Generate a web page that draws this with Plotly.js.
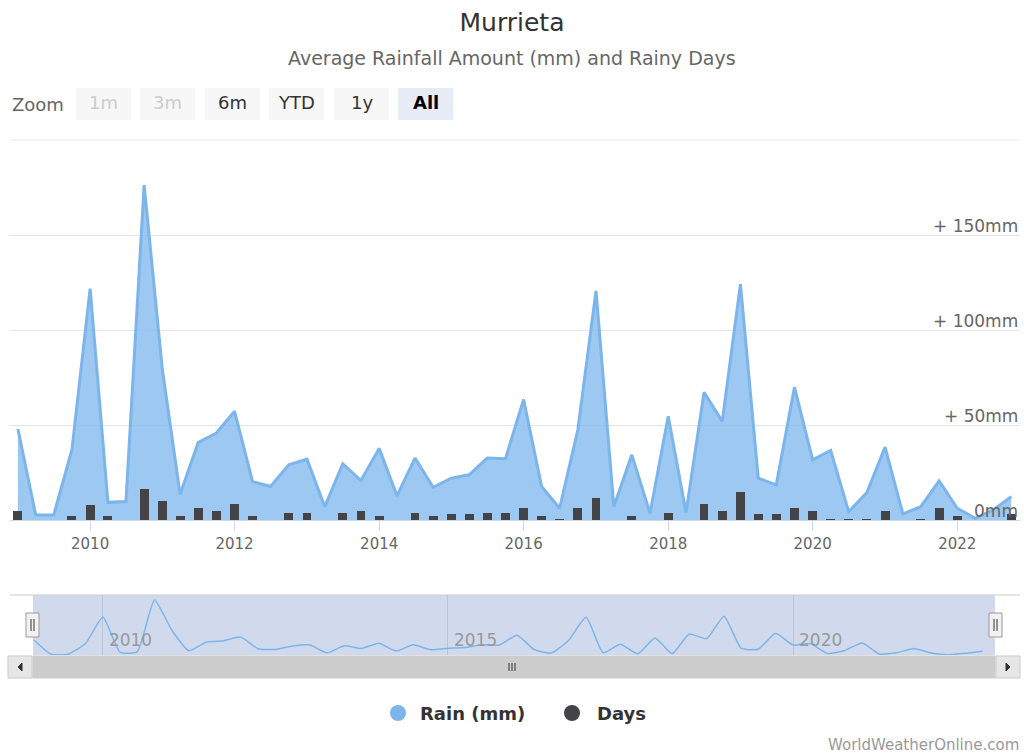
<!DOCTYPE html>
<html>
<head>
<meta charset="utf-8">
<script src="https://cdn.plot.ly/plotly-3.0.1.min.js"></script>
<style>html,body{margin:0;padding:0;background:#fff;}#chart{width:1024px;height:754px;}</style>
</head>
<body>
<div id="chart"></div>
<script>
// Quarterly observation dates
const dates = [
 "2009-01-01","2009-04-01","2009-07-01","2009-10-01",
 "2010-01-01","2010-04-01","2010-07-01","2010-10-01",
 "2011-01-01","2011-04-01","2011-07-01","2011-10-01",
 "2012-01-01","2012-04-01","2012-07-01","2012-10-01",
 "2013-01-01","2013-04-01","2013-07-01","2013-10-01",
 "2014-01-01","2014-04-01","2014-07-01","2014-10-01",
 "2015-01-01","2015-04-01","2015-07-01","2015-10-01",
 "2016-01-01","2016-04-01","2016-07-01","2016-10-01",
 "2017-01-01","2017-04-01","2017-07-01","2017-10-01",
 "2018-01-01","2018-04-01","2018-07-01","2018-10-01",
 "2019-01-01","2019-04-01","2019-07-01","2019-10-01",
 "2020-01-01","2020-04-01","2020-07-01","2020-10-01",
 "2021-01-01","2021-04-01","2021-07-01","2021-10-01",
 "2022-01-01","2022-04-01","2022-07-01","2022-10-01"
];
// Rain (mm)
const rainMm = [
 47.9, 2.6, 2.6, 37,
 121.8, 9.3, 9.7, 176.3,
 79.2, 13.5, 40.8, 45.8,
 57.2, 20.2, 17.6, 29,
 32, 7, 29.6, 20.8,
 37.7, 12.7, 32.6, 17.2,
 22, 23.8, 32.6, 32.2,
 63.4, 17.6, 6.2, 47.5,
 120.6, 7, 34.3, 3.5,
 54.6, 3.9, 67.2, 51.9,
 124.1, 22, 18.5, 69.9,
 31.7, 36.6, 4.4, 14.4,
 38.4, 3.2, 7, 20.6,
 6.2, 0.9, 5.3, 12.3
];
// Rainy days
const rainyDays = [
 6, 0, 0, 3,
 10, 3, 0, 21,
 13, 3, 8, 6,
 11, 3, 0, 5,
 5, 0, 5, 6,
 3, 0, 5, 3,
 4, 4, 5, 5,
 8, 3, 1, 8,
 15, 0, 3, 0,
 5, 0, 11, 6,
 19, 4, 4, 8,
 6, 1, 1, 1,
 6, 0, 1, 8,
 3, 0, 0, 4
];
const xTickVals = ["2010-01-01","2012-01-01","2014-01-01","2016-01-01","2018-01-01","2020-01-01","2022-01-01"];
const xTickText = ["2010","2012","2014","2016","2018","2020","2022"];
const navTickVals = ["2010-01-01","2015-01-01","2020-01-01"];
const navTickText = ["2010","2015","2020"];
const yTickVals = [0, 50, 100, 150, 200];
const yTickText = ["0mm", "+ 50mm", "+ 100mm", "+ 150mm", ""];
const zoomButtons = ["1m", "3m", "6m", "YTD", "1y", "All"];
const legendLabels = ["Rain (mm)", "Days"];
const titleText = "Murrieta";
const subtitleText = "Average Rainfall Amount (mm) and Rainy Days";
const creditText = "WorldWeatherOnline.com";

const W = 1024, H = 754;
const px = x => x / W;
const py = y => 1 - y / H;
const FONT = "DejaVu Sans, Verdana, sans-serif";

const traces = [
  {
    type: "scatter", mode: "lines", x: dates, y: rainMm, name: legendLabels[0],
    xaxis: "x", yaxis: "y", fill: "tozeroy",
    fillcolor: "rgba(124,181,236,0.75)",
    line: {color: "#7cb5ec", width: 3}, hoverinfo: "x+y"
  },
  {
    type: "bar", x: dates, y: rainyDays, name: legendLabels[1],
    xaxis: "x", yaxis: "y2", marker: {color: "#434348"},
    width: 45 * 86400000
  },
  {
    type: "scatter", mode: "lines", x: dates, y: rainMm, name: "navigator",
    xaxis: "x2", yaxis: "y3",
    line: {color: "#7cb5ec", width: 1.5, shape: "spline", smoothing: 0.5},
    hoverinfo: "skip"
  }
];

const shapes = [];
const annotations = [];

// Subtitle
annotations.push({xref: "paper", yref: "paper", x: 0.5, y: py(58), xanchor: "center", yanchor: "middle",
  text: subtitleText, showarrow: false, font: {family: FONT, size: 19, color: "#666666"}});

// Y-axis labels (right side, above each gridline) placed on the rain axis
yTickVals.forEach((v, i) => {
  if (!yTickText[i]) return;
  annotations.push({xref: "paper", yref: "y", x: px(1020), y: v, xanchor: "right", yanchor: "bottom",
    yshift: -3, text: yTickText[i], showarrow: false,
    font: {family: FONT, size: 17, color: "#666666"}});
});

// Zoom label & buttons
annotations.push({xref: "paper", yref: "paper", x: px(10), y: py(104), xanchor: "left", yanchor: "middle",
  text: "Zoom", showarrow: false, font: {family: FONT, size: 18, color: "#666666"}});
const btnX = [76, 140, 205, 269, 334, 398];
const btnW = 55;
zoomButtons.forEach((b, i) => {
  const disabled = i < 2, selected = i === 5;
  shapes.push({type: "rect", xref: "paper", yref: "paper", x0: px(btnX[i]), x1: px(btnX[i] + btnW),
    y0: py(120), y1: py(88), fillcolor: selected ? "#e6ebf5" : "#f7f7f7", line: {width: 0}, layer: "below"});
  annotations.push({xref: "paper", yref: "paper", x: px(btnX[i] + btnW / 2), y: py(103), xanchor: "center", yanchor: "middle",
    text: selected ? "<b>" + b + "</b>" : b, showarrow: false,
    font: {family: FONT, size: 18, color: disabled ? "#cccccc" : (selected ? "#000000" : "#333333")}});
});

// Top gridline (200 mm) of the main plot
shapes.push({type: "line", xref: "paper", yref: "paper", x0: px(10), x1: px(1020), y0: py(140), y1: py(140),
  line: {color: "#e6e6e6", width: 1}, layer: "below"});

// Navigator background and outline
shapes.push({type: "rect", xref: "paper", yref: "paper", x0: px(33), x1: px(995), y0: py(655), y1: py(595),
  fillcolor: "rgba(102,133,194,0.3)", line: {width: 0}, layer: "below"});
shapes.push({type: "line", xref: "paper", yref: "paper", x0: px(10), x1: px(1020), y0: py(595), y1: py(595),
  line: {color: "#cccccc", width: 1}});

// Scrollbar
shapes.push({type: "rect", xref: "paper", yref: "paper", x0: px(8), x1: px(1020), y0: py(678), y1: py(656),
  fillcolor: "#f2f2f2", line: {color: "#f2f2f2", width: 1}});
shapes.push({type: "rect", xref: "paper", yref: "paper", x0: px(33), x1: px(995), y0: py(678), y1: py(656),
  fillcolor: "#cccccc", line: {color: "#cccccc", width: 1}});
shapes.push({type: "rect", xref: "paper", yref: "paper", x0: px(8), x1: px(32), y0: py(678), y1: py(656),
  fillcolor: "#e6e6e6", line: {color: "#cccccc", width: 1}});
shapes.push({type: "rect", xref: "paper", yref: "paper", x0: px(996), x1: px(1020), y0: py(678), y1: py(656),
  fillcolor: "#e6e6e6", line: {color: "#cccccc", width: 1}});
shapes.push({type: "path", xref: "paper", yref: "paper",
  path: `M ${px(18)} ${py(667)} L ${px(22)} ${py(663)} L ${px(22)} ${py(671)} Z`,
  fillcolor: "#333333", line: {color: "#333333", width: 1}});
shapes.push({type: "path", xref: "paper", yref: "paper",
  path: `M ${px(1010)} ${py(667)} L ${px(1006)} ${py(663)} L ${px(1006)} ${py(671)} Z`,
  fillcolor: "#333333", line: {color: "#333333", width: 1}});
[509, 512, 515].forEach(x => shapes.push({type: "line", xref: "paper", yref: "paper",
  x0: px(x), x1: px(x), y0: py(663), y1: py(671), line: {color: "#333333", width: 1}}));

// Navigator handles
[[26, 39], [989, 1002]].forEach(([a, b]) => {
  shapes.push({type: "rect", xref: "paper", yref: "paper", x0: px(a), x1: px(b), y0: py(637), y1: py(613),
    fillcolor: "#f2f2f2", line: {color: "#999999", width: 1}});
  const m = (a + b) / 2;
  [m - 1.5, m + 1.5].forEach(x => shapes.push({type: "line", xref: "paper", yref: "paper",
    x0: px(x), x1: px(x), y0: py(619), y1: py(631), line: {color: "#333333", width: 1}}));
});

// Legend
shapes.push({type: "circle", xref: "paper", yref: "paper", x0: px(390), x1: px(406), y0: py(721), y1: py(705),
  fillcolor: "#7cb5ec", line: {width: 0}});
shapes.push({type: "circle", xref: "paper", yref: "paper", x0: px(564), x1: px(580), y0: py(721), y1: py(705),
  fillcolor: "#434348", line: {width: 0}});
annotations.push({xref: "paper", yref: "paper", x: px(418), y: py(713), xanchor: "left", yanchor: "middle",
  text: "<b>" + legendLabels[0] + "</b>", showarrow: false, font: {family: FONT, size: 18, color: "#333333"}});
annotations.push({xref: "paper", yref: "paper", x: px(595), y: py(713), xanchor: "left", yanchor: "middle",
  text: "<b>" + legendLabels[1] + "</b>", showarrow: false, font: {family: FONT, size: 18, color: "#333333"}});

// Credits
annotations.push({xref: "paper", yref: "paper", x: px(1021), y: py(745), xanchor: "right", yanchor: "middle",
  text: creditText, showarrow: false, font: {family: FONT, size: 15, color: "#999999"}});

const layout = {
  width: W, height: H,
  margin: {l: 0, r: 0, t: 0, b: 0, pad: 0},
  paper_bgcolor: "#ffffff", plot_bgcolor: "rgba(0,0,0,0)",
  showlegend: false,
  font: {family: FONT, color: "#333333"},
  title: {text: titleText, x: 0.5, xanchor: "center", y: py(22), yanchor: "middle", yref: "container",
    font: {family: FONT, size: 25, color: "#333333"}},
  bargap: 0,
  xaxis: {
    type: "date", domain: [px(10), px(1020)], anchor: "y",
    range: ["2008-11-22", "2022-11-14"],
    tickmode: "array", tickvals: xTickVals, ticktext: xTickText,
    ticks: "outside", ticklen: 10, tickcolor: "#ccd6eb", tickwidth: 1,
    showline: true, linecolor: "#ccd6eb", linewidth: 1,
    showgrid: false, zeroline: false,
    tickfont: {family: FONT, size: 15, color: "#666666"}, fixedrange: true
  },
  yaxis: {
    domain: [py(520), py(140)], anchor: "x", range: [0, 200],
    tickmode: "array", tickvals: yTickVals,
    showticklabels: false,
    showgrid: true, gridcolor: "#e6e6e6", gridwidth: 1,
    zeroline: false, showline: false, ticks: "", fixedrange: true
  },
  yaxis2: {
    overlaying: "y", anchor: "x", side: "left", range: [0, 253.3],
    visible: false, showgrid: false, zeroline: false, fixedrange: true
  },
  xaxis2: {
    type: "date", domain: [px(33), px(995)], anchor: "y3",
    range: ["2008-12-27", "2022-12-05"],
    tickmode: "array", tickvals: navTickVals, ticktext: navTickText,
    ticks: "", showline: false, zeroline: false,
    showgrid: true, gridcolor: "#b9c3d6", gridwidth: 1,
    ticklabelposition: "inside right", ticklabelshift: 6,
    tickfont: {family: FONT, size: 17, color: "#999999"}, fixedrange: true
  },
  yaxis3: {
    domain: [py(655), py(595)], anchor: "x2", range: [0, 192],
    visible: false, showgrid: false, zeroline: false, fixedrange: true
  },
  shapes: shapes,
  annotations: annotations
};

Plotly.newPlot("chart", traces, layout, {displayModeBar: false, staticPlot: true});
</script>
</body>
</html>
